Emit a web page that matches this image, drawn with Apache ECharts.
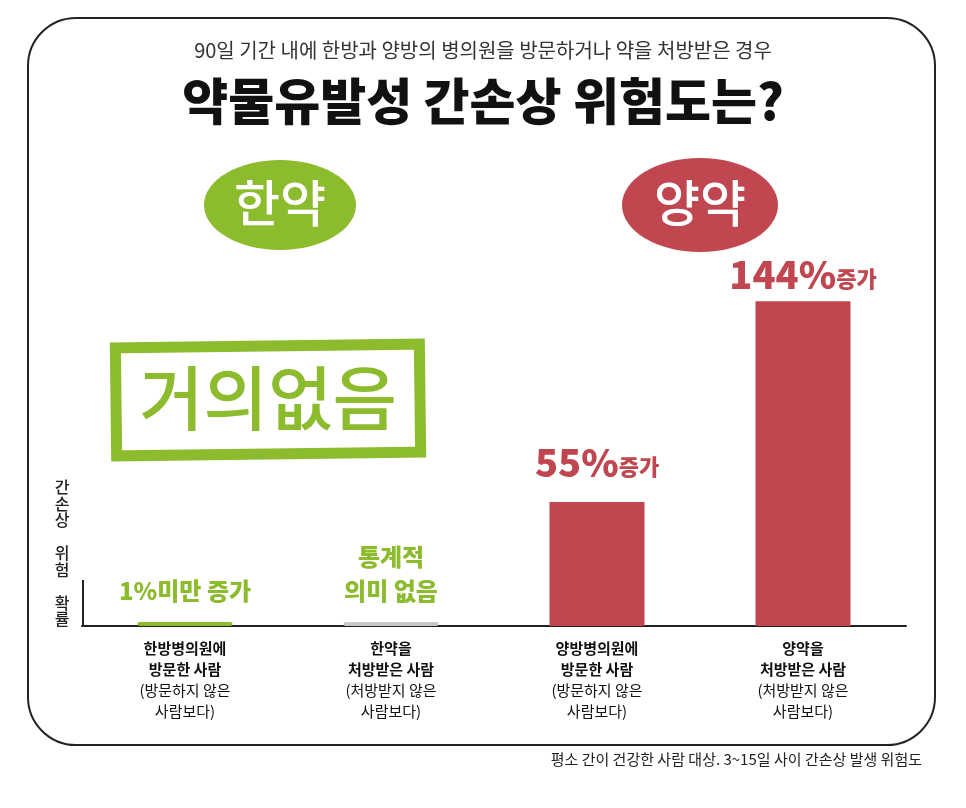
<!DOCTYPE html>
<html>
<head>
<meta charset="utf-8">
<script src="https://cdn.jsdelivr.net/npm/echarts@6/dist/echarts.min.js"></script>
<style>
  html, body { margin: 0; padding: 0; background: #fff; }
  #main { width: 966px; height: 808px; }
</style>
</head>
<body>
<div id="main"></div>
<script>
const FONT = "Noto Sans CJK KR";
const GREEN = "#8dbb2e";
const RED = "#c0474f";
const GRAY = "#c8c8c8";

const categories = ["한방병의원에\n방문한 사람", "한약을\n처방받은 사람", "양방병의원에\n방문한 사람", "양약을\n처방받은 사람"];
const subNotes = ["(방문하지 않은\n사람보다)", "(처방받지 않은\n사람보다)", "(방문하지 않은\n사람보다)", "(처방받지 않은\n사람보다)"];
const riskValues = [1, 1, 55, 144];
const barColors = [GREEN, GRAY, RED, RED];
const valueLabels = ["1%미만 증가", "통계적\n의미 없음", "55%", "144%"];

var myChart = echarts.init(document.querySelector("#main"));

const options = {
  animation: false,
  textStyle: { fontFamily: FONT },
  grid: { left: 82, width: 824, top: 150, height: 476 },
  xAxis: {
    type: "category",
    data: categories,
    axisTick: { show: false },
    axisLine: { lineStyle: { color: "#222", width: 2 } },
    axisLabel: {
      margin: 12,
      formatter: (v, i) => "{b|" + v.replace("\n", "}\n{b|") + "}\n{n|" + subNotes[i].replace("\n", "}\n{n|") + "}",
      rich: {
        b: { fontSize: 15, fontWeight: "bold", color: "#111", lineHeight: 21, fontFamily: FONT },
        n: { fontSize: 15, color: "#111", lineHeight: 21, fontFamily: FONT }
      }
    }
  },
  yAxis: {
    type: "value",
    min: 0,
    max: 211,
    splitLine: { show: false },
    axisLabel: { show: false },
    axisTick: { show: false },
    axisLine: { show: false }
  },
  series: [{
    type: "bar",
    barWidth: 95,
    barMinHeight: 4,
    data: riskValues.map((v, i) => ({
      value: v,
      itemStyle: { color: barColors[i], borderRadius: i < 2 ? 2 : 0 },
      label: {
        show: true,
        position: "top",
        distance: i < 2 ? 14 : (i === 2 ? 22 : 10),
        formatter: i < 2 ? valueLabels[i] : "{big|" + valueLabels[i] + "}{sm|증가}",
        color: i === 0 || i === 1 ? GREEN : RED,
        fontSize: 24,
        fontWeight: 900,
        lineHeight: 34,
        fontFamily: FONT,
        rich: {
          big: { fontSize: 38, fontWeight: 900, color: RED, fontFamily: FONT },
          sm: { fontSize: 22, fontWeight: 900, color: RED, fontFamily: FONT, padding: [8, 0, 0, 0] }
        }
      }
    }))
  }],
  graphic: [
    { type: "rect", z: -1, shape: { x: 28, y: 18, width: 907, height: 727, r: 48 },
      style: { fill: "#fff", stroke: "#222", lineWidth: 2 } },
    { type: "line", shape: { x1: 83, y1: 580, x2: 83, y2: 626 }, style: { stroke: "#222", lineWidth: 2 } },
    { type: "text", left: "center", top: 40,
      style: { text: "90일 기간 내에 한방과 양방의 병의원을 방문하거나 약을 처방받은 경우", font: "20px '" + FONT + "'", fill: "#333" } },
    { type: "text", left: "center", top: 76,
      style: { text: "약물유발성 간손상 위험도는?", font: "900 50px '" + FONT + "'", fill: "#111" } },
    { type: "ellipse", shape: { cx: 280, cy: 205, rx: 76, ry: 45 }, style: { fill: GREEN } },
    { type: "text", x: 280, y: 203,
      style: { text: "한약", font: "500 50px '" + FONT + "'", fill: "#fff", align: "center", verticalAlign: "middle" } },
    { type: "ellipse", shape: { cx: 700, cy: 205, rx: 78, ry: 47 }, style: { fill: RED } },
    { type: "text", x: 700, y: 203,
      style: { text: "양약", font: "500 50px '" + FONT + "'", fill: "#fff", align: "center", verticalAlign: "middle" } },
    { type: "rect", rotation: 0.012, originX: 268, originY: 400,
      shape: { x: 116, y: 346, width: 304, height: 108 }, style: { fill: "none", stroke: GREEN, lineWidth: 11 } },
    { type: "text", x: 268, y: 398,
      style: { text: "거의없음", font: "500 70px '" + FONT + "'", fill: GREEN, align: "center", verticalAlign: "middle" } },
    { type: "text", x: 62, y: 553,
      style: { text: "간\n손\n상\n\n위\n험\n\n확\n률", font: "500 16px '" + FONT + "'", fill: "#222",
        align: "center", verticalAlign: "middle", lineHeight: 16.5 } },
    { type: "text", right: 44, top: 752,
      style: { text: "평소 간이 건강한 사람 대상. 3~15일 사이 간손상 발생 위험도", font: "15px '" + FONT + "'", fill: "#222" } }
  ]
};

myChart.setOption(options);
window.onresize = function() {
  myChart.resize();
};
</script>
</body>
</html>
